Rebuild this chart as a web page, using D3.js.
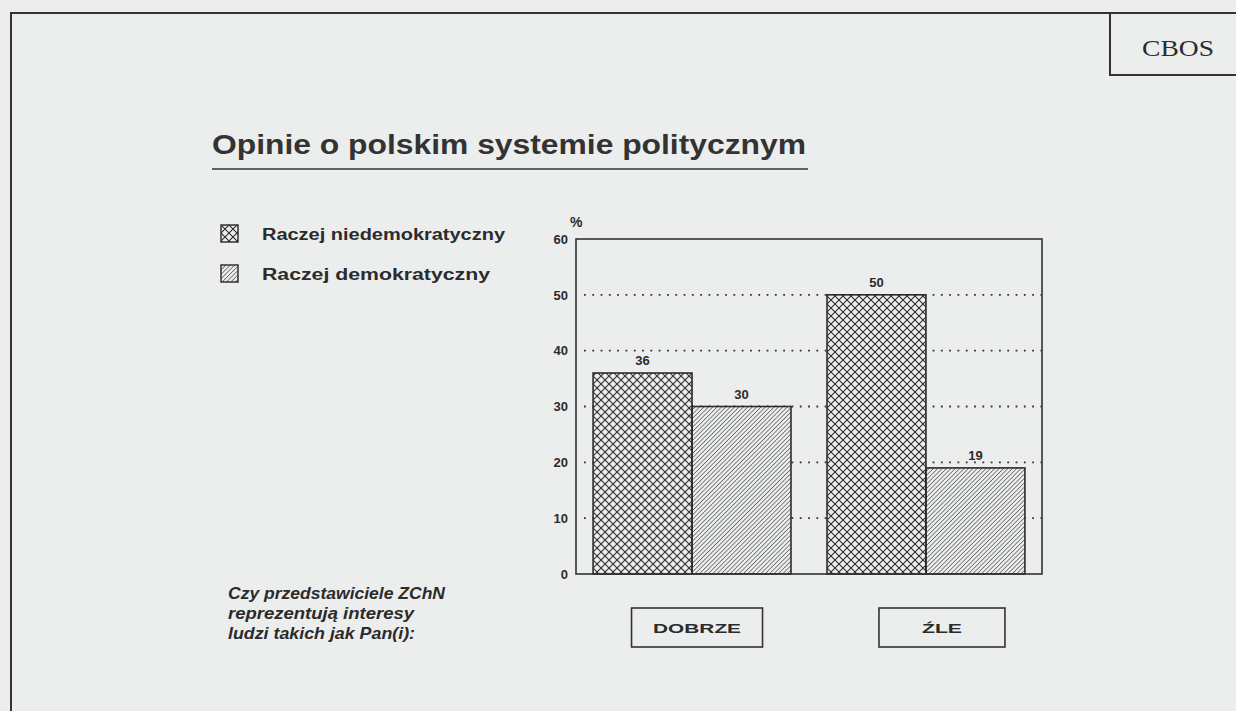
<!DOCTYPE html>
<html>
<head>
<meta charset="utf-8">
<script src="https://cdn.jsdelivr.net/npm/d3@7"></script>
<style>
  body { margin: 0; background: #eceeee; }
  svg { display: block; }
  text { font-family: "Liberation Sans", Arial, sans-serif; fill: #2b2b2b; }
</style>
</head>
<body>
<div id="chart"></div>
<script>
const WIDTH = 1236;
const HEIGHT = 711;

// data
const categories = ["DOBRZE", "ŹLE"];
const seriesNames = ["Raczej niedemokratyczny", "Raczej demokratyczny"];
const niedemokratyczny = [36, 50];
const demokratyczny = [30, 19];
const yTicks = [0, 10, 20, 30, 40, 50, 60];
const questionLines = ["Czy przedstawiciele ZChN", "reprezentują interesy", "ludzi takich jak Pan(i):"];

const PLOT = {left: 576, right: 1042, top: 239, bottom: 574};

const svg = d3.select("#chart")
  .append("svg")
    .attr("width", WIDTH)
    .attr("height", HEIGHT);

// hatch patterns
const defs = svg.append("defs");
const cross = defs.append("pattern")
    .attr("id", "cross")
    .attr("patternUnits", "userSpaceOnUse")
    .attr("width", 8).attr("height", 8);
cross.append("path")
    .attr("d", "M0,0L8,8M8,0L0,8")
    .attr("stroke", "#2b2b2b").attr("stroke-width", 1.1);

const diag = defs.append("pattern")
    .attr("id", "diag")
    .attr("patternUnits", "userSpaceOnUse")
    .attr("width", 3.1).attr("height", 3.1)
    .attr("patternTransform", "rotate(45)");
diag.append("line")
    .attr("x1", 0).attr("y1", 0).attr("x2", 0).attr("y2", 3.1)
    .attr("stroke", "#2b2b2b").attr("stroke-width", 1.1);

const fills = ["url(#cross)", "url(#diag)"];

// page frame and CBOS box
svg.append("path")
    .attr("d", "M11," + HEIGHT + "V13H" + WIDTH)
    .attr("fill", "none").attr("stroke", "#333").attr("stroke-width", 2);
svg.append("path")
    .attr("d", "M1110,13V75H" + WIDTH)
    .attr("fill", "none").attr("stroke", "#333").attr("stroke-width", 2);
svg.append("text")
    .attr("x", 1178).attr("y", 56)
    .attr("text-anchor", "middle")
    .attr("textLength", 72).attr("lengthAdjust", "spacingAndGlyphs")
    .style("font-family", "'Liberation Serif', 'DejaVu Serif', serif")
    .style("font-size", "23px")
    .text("CBOS");

// title
svg.append("text")
    .attr("x", 212).attr("y", 154)
    .attr("textLength", 594).attr("lengthAdjust", "spacingAndGlyphs")
    .style("font-size", "27px")
    .style("font-weight", "bold")
    .style("fill", "#333")
    .text("Opinie o polskim systemie politycznym");
svg.append("line")
    .attr("x1", 212).attr("x2", 808).attr("y1", 169).attr("y2", 169)
    .attr("stroke", "#333").attr("stroke-width", 1.6);

// scales
const X0 = d3.scaleBand()
    .domain(categories)
    .range([PLOT.left, PLOT.right])
    .paddingInner(0.154)
    .paddingOuter(0.073);
const X1 = d3.scaleBand()
    .domain(seriesNames)
    .range([0, X0.bandwidth()]);
const Y = d3.scaleLinear()
    .domain([0, 60])
    .range([PLOT.bottom, PLOT.top]);

// dotted gridlines
svg.append("g")
  .selectAll("line")
  .data(yTicks.filter(d => d > 0 && d < 60))
  .enter()
  .append("line")
    .attr("x1", PLOT.left + 8).attr("x2", PLOT.right)
    .attr("y1", d => Y(d)).attr("y2", d => Y(d))
    .attr("stroke", "#333")
    .attr("stroke-width", 1.8)
    .attr("stroke-dasharray", "1.8,6.5");

// bars
const rows = categories.map((c, i) => ({
  cat: c,
  vals: [niedemokratyczny[i], demokratyczny[i]]
}));

const groups = svg.selectAll(".grp")
  .data(rows)
  .enter()
  .append("g")
    .attr("class", "grp")
    .attr("transform", d => "translate(" + X0(d.cat) + ",0)");

groups.selectAll("rect")
  .data(d => d.vals.map((v, j) => ({name: seriesNames[j], v: v, j: j})))
  .enter()
  .append("rect")
    .attr("x", d => X1(d.name))
    .attr("y", d => Y(d.v))
    .attr("width", X1.bandwidth())
    .attr("height", d => Y(0) - Y(d.v))
    .attr("fill", "#eceeee")
    .attr("stroke", "none");

groups.selectAll(".hatch")
  .data(d => d.vals.map((v, j) => ({name: seriesNames[j], v: v, j: j})))
  .enter()
  .append("rect")
    .attr("class", "hatch")
    .attr("x", d => X1(d.name))
    .attr("y", d => Y(d.v))
    .attr("width", X1.bandwidth())
    .attr("height", d => Y(0) - Y(d.v))
    .attr("fill", d => fills[d.j])
    .attr("stroke", "#2b2b2b")
    .attr("stroke-width", 1.6);

groups.selectAll(".val")
  .data(d => d.vals.map((v, j) => ({name: seriesNames[j], v: v})))
  .enter()
  .append("text")
    .attr("class", "val")
    .attr("x", d => X1(d.name) + X1.bandwidth() / 2)
    .attr("y", d => Y(d.v) - 8)
    .attr("text-anchor", "middle")
    .style("font-size", "13px")
    .style("font-weight", "bold")
    .text(d => d.v);

// plot box
svg.append("rect")
    .attr("x", PLOT.left).attr("y", PLOT.top)
    .attr("width", PLOT.right - PLOT.left)
    .attr("height", PLOT.bottom - PLOT.top)
    .attr("fill", "none")
    .attr("stroke", "#333")
    .attr("stroke-width", 1.6);

// y axis labels
const yAxis = svg.append("g")
    .attr("transform", "translate(" + PLOT.left + ",0)")
    .call(d3.axisLeft(Y).tickValues(yTicks).tickSize(0).tickPadding(8));
yAxis.select(".domain").remove();
yAxis.selectAll("text")
    .attr("fill", "#2b2b2b")
    .style("font-family", "'Liberation Sans', Arial, sans-serif")
    .style("font-size", "13px")
    .style("font-weight", "bold");

svg.append("text")
    .attr("x", 570).attr("y", 227)
    .style("font-size", "14px")
    .style("font-weight", "bold")
    .text("%");

// category boxes under the bars
const catBox = svg.selectAll(".cat")
  .data(categories)
  .enter()
  .append("g")
    .attr("class", "cat")
    .attr("transform", (d, i) => "translate(" + (X0(d) + X0.bandwidth() / 2 + [5, 16][i]) + ",628)");
catBox.append("rect")
    .attr("x", (d, i) => -[131, 126][i] / 2)
    .attr("y", -20)
    .attr("width", (d, i) => [131, 126][i])
    .attr("height", 39)
    .attr("fill", "none")
    .attr("stroke", "#333")
    .attr("stroke-width", 1.6);
catBox.append("text")
    .attr("x", 0).attr("y", 5)
    .attr("text-anchor", "middle")
    .attr("textLength", (d, i) => [88, 40][i])
    .attr("lengthAdjust", "spacingAndGlyphs")
    .style("font-size", "12px")
    .style("font-weight", "bold")
    .text(d => d);

// legend
const legend = svg.selectAll(".leg")
  .data(seriesNames)
  .enter()
  .append("g")
    .attr("class", "leg")
    .attr("transform", (d, i) => "translate(221," + (225 + i * 40) + ")");
legend.append("rect")
    .attr("width", 17).attr("height", 17)
    .attr("fill", (d, i) => fills[i])
    .attr("stroke", "#333")
    .attr("stroke-width", 1.5);
legend.append("text")
    .attr("x", 41).attr("y", 15)
    .attr("textLength", (d, i) => [243, 228][i])
    .attr("lengthAdjust", "spacingAndGlyphs")
    .style("font-size", "16px")
    .style("font-weight", "bold")
    .text(d => d);

// question text
svg.append("g")
  .selectAll("text")
  .data(questionLines)
  .enter()
  .append("text")
    .attr("x", 228)
    .attr("y", (d, i) => 599 + i * 20)
    .attr("textLength", (d, i) => [217, 186, 187][i])
    .attr("lengthAdjust", "spacingAndGlyphs")
    .style("font-size", "17px")
    .style("font-weight", "bold")
    .style("font-style", "italic")
    .text(d => d);
</script>
</body>
</html>
